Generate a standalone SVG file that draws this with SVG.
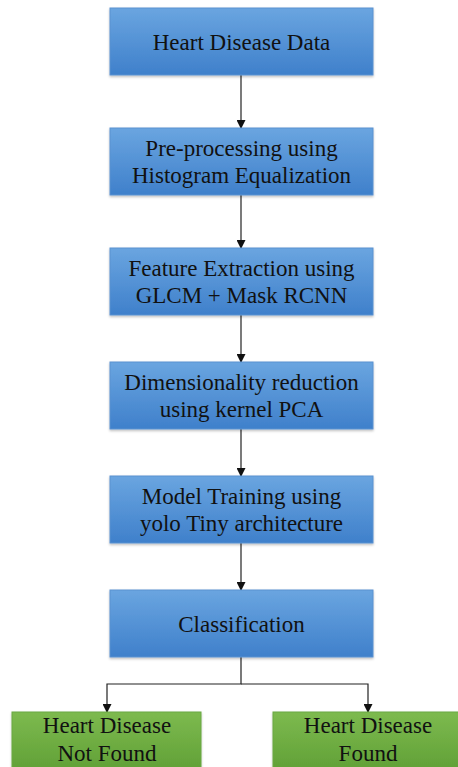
<svg xmlns="http://www.w3.org/2000/svg" width="458" height="767" viewBox="0 0 458 767">
<defs>
<linearGradient id="blue" x1="0" y1="0" x2="0" y2="1">
<stop offset="0" stop-color="#6AA5E0"/>
<stop offset="1" stop-color="#3F80CB"/>
</linearGradient>
<linearGradient id="green" x1="0" y1="0" x2="0" y2="1">
<stop offset="0" stop-color="#7DBA4F"/>
<stop offset="1" stop-color="#5E9E34"/>
</linearGradient>
<marker id="arr" markerWidth="9" markerHeight="9" refX="8" refY="4.5" orient="auto" markerUnits="userSpaceOnUse">
<path d="M0,0 L9,4.5 L0,9 Z" fill="#111"/>
</marker>
<filter id="sh" x="-5%" y="-5%" width="110%" height="115%">
<feDropShadow dx="0" dy="1.5" stdDeviation="1" flood-color="#000" flood-opacity="0.25"/>
</filter>
</defs>
<style>
.b{fill:url(#blue);stroke:#5B92D0;stroke-width:1;filter:url(#sh)}
.g{fill:url(#green);stroke:#6AA842;stroke-width:1;filter:url(#sh)}
text{font-family:"Liberation Serif","Times New Roman",serif;font-size:23px;fill:#111;text-anchor:middle}
.c{stroke:#222;stroke-width:1.2;fill:none}
</style>
<rect width="458" height="767" fill="#fff"/>
<g id="connectors">
<line class="c" x1="241" y1="75" x2="241" y2="128" marker-end="url(#arr)"/>
<line class="c" x1="241" y1="195" x2="241" y2="248" marker-end="url(#arr)"/>
<line class="c" x1="241" y1="315" x2="241" y2="362" marker-end="url(#arr)"/>
<line class="c" x1="241" y1="429" x2="241" y2="476" marker-end="url(#arr)"/>
<line class="c" x1="241" y1="543" x2="241" y2="590" marker-end="url(#arr)"/>
<polyline class="c" points="241,657 241,684 107,684 107,712" marker-end="url(#arr)"/>
<polyline class="c" points="241,684 368,684 368,712" marker-end="url(#arr)"/>
</g>
<g id="n1"><rect class="b" x="110" y="8" width="263" height="67"/><text x="241.5" y="50">Heart Disease Data</text></g>
<g id="n2"><rect class="b" x="110" y="128" width="263" height="67"/><text x="241.5" y="156">Pre-processing using</text><text x="241.5" y="183">Histogram Equalization</text></g>
<g id="n3"><rect class="b" x="110" y="248" width="263" height="67"/><text x="241.5" y="276">Feature Extraction using</text><text x="241.5" y="303">GLCM + Mask RCNN</text></g>
<g id="n4"><rect class="b" x="110" y="362" width="263" height="67"/><text x="241.5" y="390">Dimensionality reduction</text><text x="241.5" y="417">using kernel PCA</text></g>
<g id="n5"><rect class="b" x="110" y="476" width="263" height="67"/><text x="241.5" y="504">Model Training using</text><text x="241.5" y="531">yolo Tiny architecture</text></g>
<g id="n6"><rect class="b" x="110" y="590" width="263" height="67"/><text x="241.5" y="632">Classification</text></g>
<g id="n7"><rect class="g" x="12" y="712" width="189" height="64"/><text x="107" y="733">Heart Disease</text><text x="107" y="761">Not Found</text></g>
<g id="n8"><rect class="g" x="273" y="712" width="190" height="64"/><text x="368" y="733">Heart Disease</text><text x="368" y="761">Found</text></g>
</svg>
